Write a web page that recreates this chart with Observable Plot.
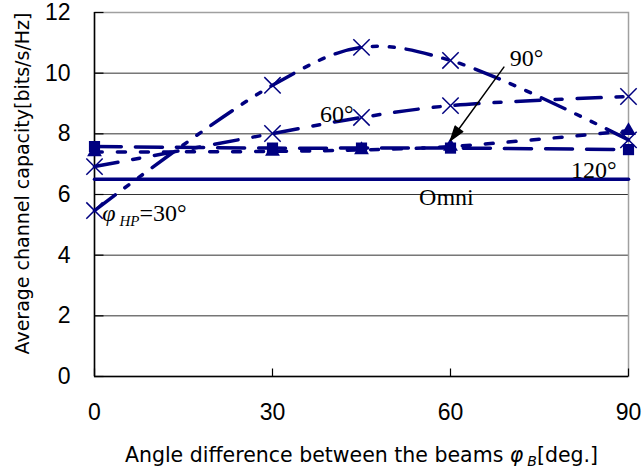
<!DOCTYPE html>
<html><head><meta charset="utf-8">
<script src="https://cdn.jsdelivr.net/npm/d3@7"></script>
<script src="https://cdn.jsdelivr.net/npm/@observablehq/plot@0.6"></script>
<style>
html,body{margin:0;padding:0;background:#fff;}
</style>
</head><body><div id="chart"></div>
<script>
// ---- data ----
const angles = [0, 30, 45, 60, 90];
const cap30 = [5.47, 9.6, 10.85, 10.42, 7.8];
const cap60 = [6.92, 8.01, 8.54, 8.93, 9.23];
const cap90 = [7.4, 7.42, 7.47, 7.58, 8.1];
const cap120 = [7.58, 7.53, 7.53, 7.53, 7.48];
const omniAngles = [0, 90];
const capOmni = [6.5, 6.5];
const xTicks = [0, 30, 60, 90];
const yTicks = [0, 2, 4, 6, 8, 10, 12];
const gridLines = [2, 4, 6, 8, 10];
const labelText = ["90°", "60°", "120°", "Omni", "φHP=30°"];
const labelX = [70.0, 38.0, 80.3, 54.7, 1.3];
const labelY = [10.25, 8.38, 6.56, 5.67, 5.13];
const arrowFrom = [69.0, 10.2];
const arrowTo = [60.0, 7.78];
const xTitle = "Angle difference between the beams φB[deg.]";
const yTitle = "Average channel capacity[bits/s/Hz]";

// ---- build tables ----
const navy = "#000080";
const toRows = (xs, ys) => xs.map((a, i) => ({a, v: ys[i]}));
const s30 = toRows(angles, cap30);
const s60 = toRows(angles, cap60);
const s90 = toRows(angles, cap90);
const s120 = toRows(angles, cap120);
const sOmni = toRows(omniAngles, capOmni);
const labels = labelText.map((t, i) => ({t, x: labelX[i], y: labelY[i]}));
const arrows = [{x1: arrowFrom[0], y1: arrowFrom[1], x2: arrowTo[0], y2: arrowTo[1]}];

const sans = "'Liberation Sans', Arial, sans-serif";
const wide = "'DejaVu Sans', sans-serif";
const serif = "'Liberation Serif', 'Times New Roman', serif";

const tickLeft = {draw(ctx) { ctx.moveTo(0, 0); ctx.lineTo(9, 0); }};
const tickBottom = {draw(ctx) { ctx.moveTo(0, 0); ctx.lineTo(0, -8); }};

const headMarks = (typeof Plot.spike === "function")
  ? [Plot.vector(arrows, {x: "x2", y: "y2", rotate: 216, length: 15, anchor: "end", shape: "spike", r: 5, fill: "black", stroke: "none"})]
  : [];

const chart = Plot.plot({
  width: 643, height: 470,
  marginLeft: 94, marginRight: 15, marginTop: 12, marginBottom: 94,
  x: {domain: [0, 90], axis: null},
  y: {domain: [0, 12], axis: null},
  style: {background: "white", overflow: "visible"},
  marks: [
    Plot.ruleY(gridLines, {stroke: "#333", strokeWidth: 1}),
    Plot.frame({stroke: "#a0a0a0", strokeWidth: 1.5}),
    Plot.ruleX([0], {stroke: "black", strokeWidth: 1.5}),
    Plot.ruleY([0], {stroke: "black", strokeWidth: 1.5}),
    Plot.dot(yTicks, {y: d => d, frameAnchor: "left", symbol: tickLeft, fill: "none", stroke: "black", strokeWidth: 1.2}),
    Plot.dot(xTicks, {x: d => d, frameAnchor: "bottom", symbol: tickBottom, fill: "none", stroke: "black", strokeWidth: 1.2}),
    Plot.text(yTicks, {y: d => d, text: d => String(d), frameAnchor: "left", dx: -24, textAnchor: "end", fontSize: 23, fontFamily: sans, fill: "black"}),
    Plot.text(xTicks, {x: d => d, text: d => String(d), frameAnchor: "bottom", dy: 36, textAnchor: "middle", lineAnchor: "middle", fontSize: 23, fontFamily: sans, fill: "black"}),
    Plot.text([xTitle], {text: d => d, frameAnchor: "bottom", dy: 85, textAnchor: "middle", lineAnchor: "bottom", fontSize: 20.5, fontFamily: wide, fill: "black"}),
    Plot.text([yTitle], {text: d => d, frameAnchor: "left", rotate: -90, dx: -72, dy: -11, textAnchor: "middle", lineAnchor: "middle", fontSize: 19, fontFamily: wide, fill: "black"}),
    // series
    Plot.line(sOmni, {x: "a", y: "v", stroke: navy, strokeWidth: 3.5}),
    Plot.line(s120, {x: "a", y: "v", stroke: navy, strokeWidth: 3.5, strokeDasharray: "27,14", curve: "catmull-rom"}),
    Plot.line(s90, {x: "a", y: "v", stroke: navy, strokeWidth: 3.5, strokeDasharray: "8,15", curve: "catmull-rom"}),
    Plot.line(s60, {x: "a", y: "v", stroke: navy, strokeWidth: 3.5, strokeDasharray: "24,15,7,15", curve: "catmull-rom"}),
    Plot.line(s30, {x: "a", y: "v", stroke: navy, strokeWidth: 3.5, strokeDasharray: "26,12,5,12,5,12", curve: "catmull-rom"}),
    Plot.dot(s120, {x: "a", y: "v", symbol: "square", r: 6.3, fill: navy}),
    Plot.dot(s90, {x: "a", y: "v", symbol: "triangle", r: 5.5, fill: navy}),
    Plot.dot(s60, {x: "a", y: "v", symbol: "times", r: 7.5, stroke: navy, strokeWidth: 1.5}),
    Plot.dot(s30, {x: "a", y: "v", symbol: "times", r: 7.5, stroke: navy, strokeWidth: 1.5}),
    // annotations
    Plot.arrow(arrows, {x1: "x1", y1: "y1", x2: "x2", y2: "y2", stroke: "black", strokeWidth: 1.5, headLength: 15, headAngle: 36}),
    ...headMarks,
    Plot.text(labels, {x: "x", y: "y", text: "t", textAnchor: "start", lineAnchor: "bottom", fontSize: 24, fontFamily: serif, fill: "black"})
  ]
});

// subscripts
function subscriptify(node, parts, subSize, shift) {
  const t = d3.select(node);
  t.text(null);
  t.append("tspan").text(parts[0]);
  t.append("tspan").attr("font-style", "italic").text(parts[1]);
  t.append("tspan").attr("font-size", subSize).attr("font-style", "italic").attr("dx", 4).attr("dy", shift).text(parts[2]);
  t.append("tspan").attr("dy", -shift).text(parts[3]);
}
d3.select(chart).selectAll("text").each(function() {
  const c = this.textContent;
  if (c === "φHP=30°") subscriptify(this, ["", "φ", "HP", "=30°"], 15, 5);
  else if (c === xTitle) subscriptify(this, ["Angle difference between the beams ", "φ", "B", "[deg.]"], 14, 4);
});

document.getElementById("chart").appendChild(chart);
</script>
</body></html>
